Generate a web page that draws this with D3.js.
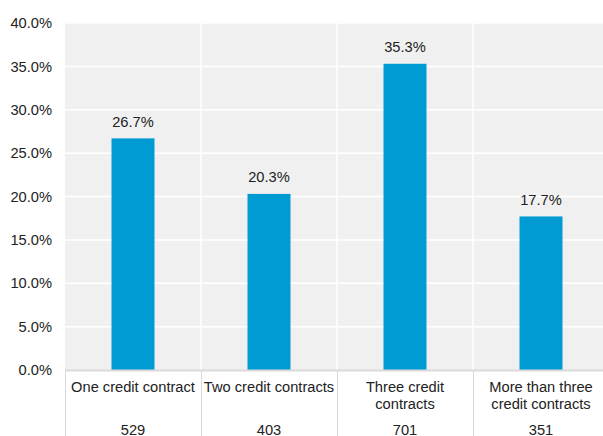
<!DOCTYPE html>
<html>
<head>
<meta charset="utf-8">
<script src="https://cdn.jsdelivr.net/npm/d3@7"></script>
<style>
  html, body { margin: 0; padding: 0; background: #fff; }
  svg { display: block; }
  text { font-family: "Liberation Sans", Arial, sans-serif; font-size: 14.67px; fill: #222; }
</style>
</head>
<body>
<svg id="chart" width="603" height="436"></svg>
<script>
// Share of respondents by number of credit contracts held
const categories = ["One credit contract", "Two credit contracts", "Three credit contracts", "More than three credit contracts"];
const categoryLines = [["One credit contract"], ["Two credit contracts"], ["Three credit", "contracts"], ["More than three", "credit contracts"]];
const shares = [26.7, 20.3, 35.3, 17.7];
const counts = [529, 403, 701, 351];
const yTicks = [0, 5, 10, 15, 20, 25, 30, 35, 40];

const svg = d3.select("#chart");
const plotLeft = 65, plotTop = 23, plotBottom = 370, plotRight = 609;

const x = d3.scaleBand().domain(categories).range([plotLeft, plotRight]).paddingInner(0).paddingOuter(0);
const y = d3.scaleLinear().domain([0, 40]).range([plotBottom, plotTop]);
const barW = x.bandwidth() * 0.316;

// plot background
svg.append("rect")
  .attr("x", plotLeft).attr("y", plotTop)
  .attr("width", plotRight - plotLeft).attr("height", plotBottom - plotTop)
  .attr("fill", "#f0f0f0");

// horizontal gridlines
svg.append("g").selectAll("line").data(yTicks.filter(d => d > 0)).join("line")
  .attr("x1", plotLeft).attr("x2", plotRight)
  .attr("y1", d => y(d)).attr("y2", d => y(d))
  .attr("stroke", "#fff").attr("stroke-width", 1.5);

// vertical gridlines between categories
svg.append("g").selectAll("line").data(categories.slice(1)).join("line")
  .attr("x1", d => x(d)).attr("x2", d => x(d))
  .attr("y1", plotTop).attr("y2", plotBottom)
  .attr("stroke", "#fff").attr("stroke-width", 1.5);

// bars
svg.append("g").selectAll("rect").data(shares).join("rect")
  .attr("x", (d, i) => x(categories[i]) + (x.bandwidth() - barW) / 2)
  .attr("y", d => y(d))
  .attr("width", barW)
  .attr("height", d => y(0) - y(d))
  .attr("fill", "#009bd2");

// value labels
svg.append("g").selectAll("text").data(shares).join("text")
  .attr("x", (d, i) => x(categories[i]) + x.bandwidth() / 2)
  .attr("y", d => y(d) - 11.5)
  .attr("text-anchor", "middle")
  .text(d => d.toFixed(1) + "%");

// y axis labels
const yAxis = d3.axisLeft(y).tickValues(yTicks).tickSize(0).tickPadding(13)
  .tickFormat(d => d.toFixed(1) + "%");
const yg = svg.append("g").attr("transform", `translate(${plotLeft},0)`).call(yAxis);
yg.select(".domain").remove();
yg.selectAll("text").attr("fill", "#222");
yg.attr("font-family", null).attr("font-size", null);

// category table below the axis
svg.append("g").selectAll("line").data(categories).join("line")
  .attr("x1", d => x(d) + 0.5).attr("x2", d => x(d) + 0.5)
  .attr("y1", plotBottom).attr("y2", 436)
  .attr("stroke", "#d9d9d9").attr("stroke-width", 1);

svg.append("line")
  .attr("x1", plotLeft).attr("x2", plotRight)
  .attr("y1", plotBottom + 0.5).attr("y2", plotBottom + 0.5)
  .attr("stroke", "#d9d9d9").attr("stroke-width", 2);

const cat = svg.append("g").selectAll("text").data(categories).join("text")
  .attr("x", d => x(d) + x.bandwidth() / 2)
  .attr("y", 392)
  .attr("text-anchor", "middle");
cat.selectAll("tspan").data((d, i) => categoryLines[i]).join("tspan")
  .attr("x", function() { return d3.select(this.parentNode).attr("x"); })
  .attr("dy", (d, j) => j === 0 ? 0 : 17)
  .text(d => d);

// respondent counts per category
svg.append("g").selectAll("text").data(counts).join("text")
  .attr("x", (d, i) => x(categories[i]) + x.bandwidth() / 2)
  .attr("y", 434.5)
  .attr("text-anchor", "middle")
  .text(d => d);
</script>
</body>
</html>
